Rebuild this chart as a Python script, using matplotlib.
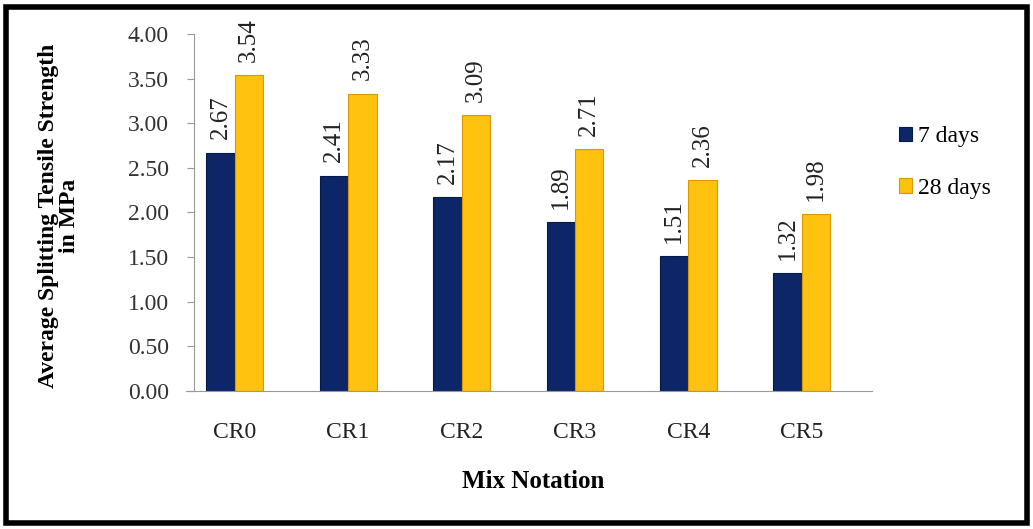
import matplotlib.pyplot as plt
import numpy as np
from matplotlib.patches import Rectangle

# dados
misturas = ['CR0', 'CR1', 'CR2', 'CR3', 'CR4', 'CR5']
dias_7 = [2.67, 2.41, 2.17, 1.89, 1.51, 1.32]
dias_28 = [3.54, 3.33, 3.09, 2.71, 2.36, 1.98]
yticks = [0.0, 0.5, 1.0, 1.5, 2.0, 2.5, 3.0, 3.5, 4.0]

plt.rcParams['font.family'] = ['Liberation Serif', 'DejaVu Serif']

fig = plt.figure(figsize=(10.33, 5.29), dpi=100)
ax = fig.add_axes([0.1878, 0.2609, 0.6563, 0.6749])

x = np.arange(len(misturas))
w = 0.25
azul = '#0c2667'
amarelo = '#ffc20e'

b1 = ax.bar(x - w / 2, dias_7, w, color=azul, edgecolor='#061a4a', linewidth=0.8, label='7 days')
b2 = ax.bar(x + w / 2, dias_28, w, color=amarelo, edgecolor='#d89a00', linewidth=0.8, label='28 days')

# rótulos verticais acima das barras
for barras in (b1, b2):
    for b in barras:
        ax.text(b.get_x() + b.get_width() / 2, b.get_height() + 0.15, '%.2f' % b.get_height(),
                rotation=90, ha='center', va='bottom', fontsize=18, color='#222222')

ax.set_xlim(-0.36, 5.62)
ax.set_ylim(0, 4.0)
ax.set_yticks(yticks)
ax.set_yticklabels(['%.2f' % v for v in yticks], fontsize=17, color='#333333')
ax.set_xticks(x)
ax.set_xticklabels(misturas, fontsize=17, color='#222222')
ax.tick_params(axis='x', length=0, pad=22)
ax.tick_params(axis='y', length=5, color='#999999', pad=13)

for s in ['top', 'right']:
    ax.spines[s].set_visible(False)
ax.spines['left'].set_color('#999999')
ax.spines['bottom'].set_color('#999999')
ax.spines['bottom'].set_bounds(-0.43, 5.62)

ax.set_ylabel('Average Splitting Tensile Strength\nin MPa', fontsize=17, fontweight='bold',
              linespacing=1.0)
ax.yaxis.set_label_coords(-0.168, 0.49)
ax.set_xlabel('Mix Notation', fontsize=18, fontweight='bold', labelpad=20)

leg = fig.legend(handles=[b1, b2], loc='center left', bbox_to_anchor=(0.8495, 0.693), frameon=False,
                 fontsize=17, handlelength=0.55, handleheight=0.55, handletextpad=0.25,
                 labelspacing=1.3)

# moldura preta
fig.patches.append(Rectangle((0.0055, 0.012), 0.989, 0.975, transform=fig.transFigure,
                             fill=False, edgecolor='black', linewidth=4))

fig.savefig('out.png', dpi=100)
